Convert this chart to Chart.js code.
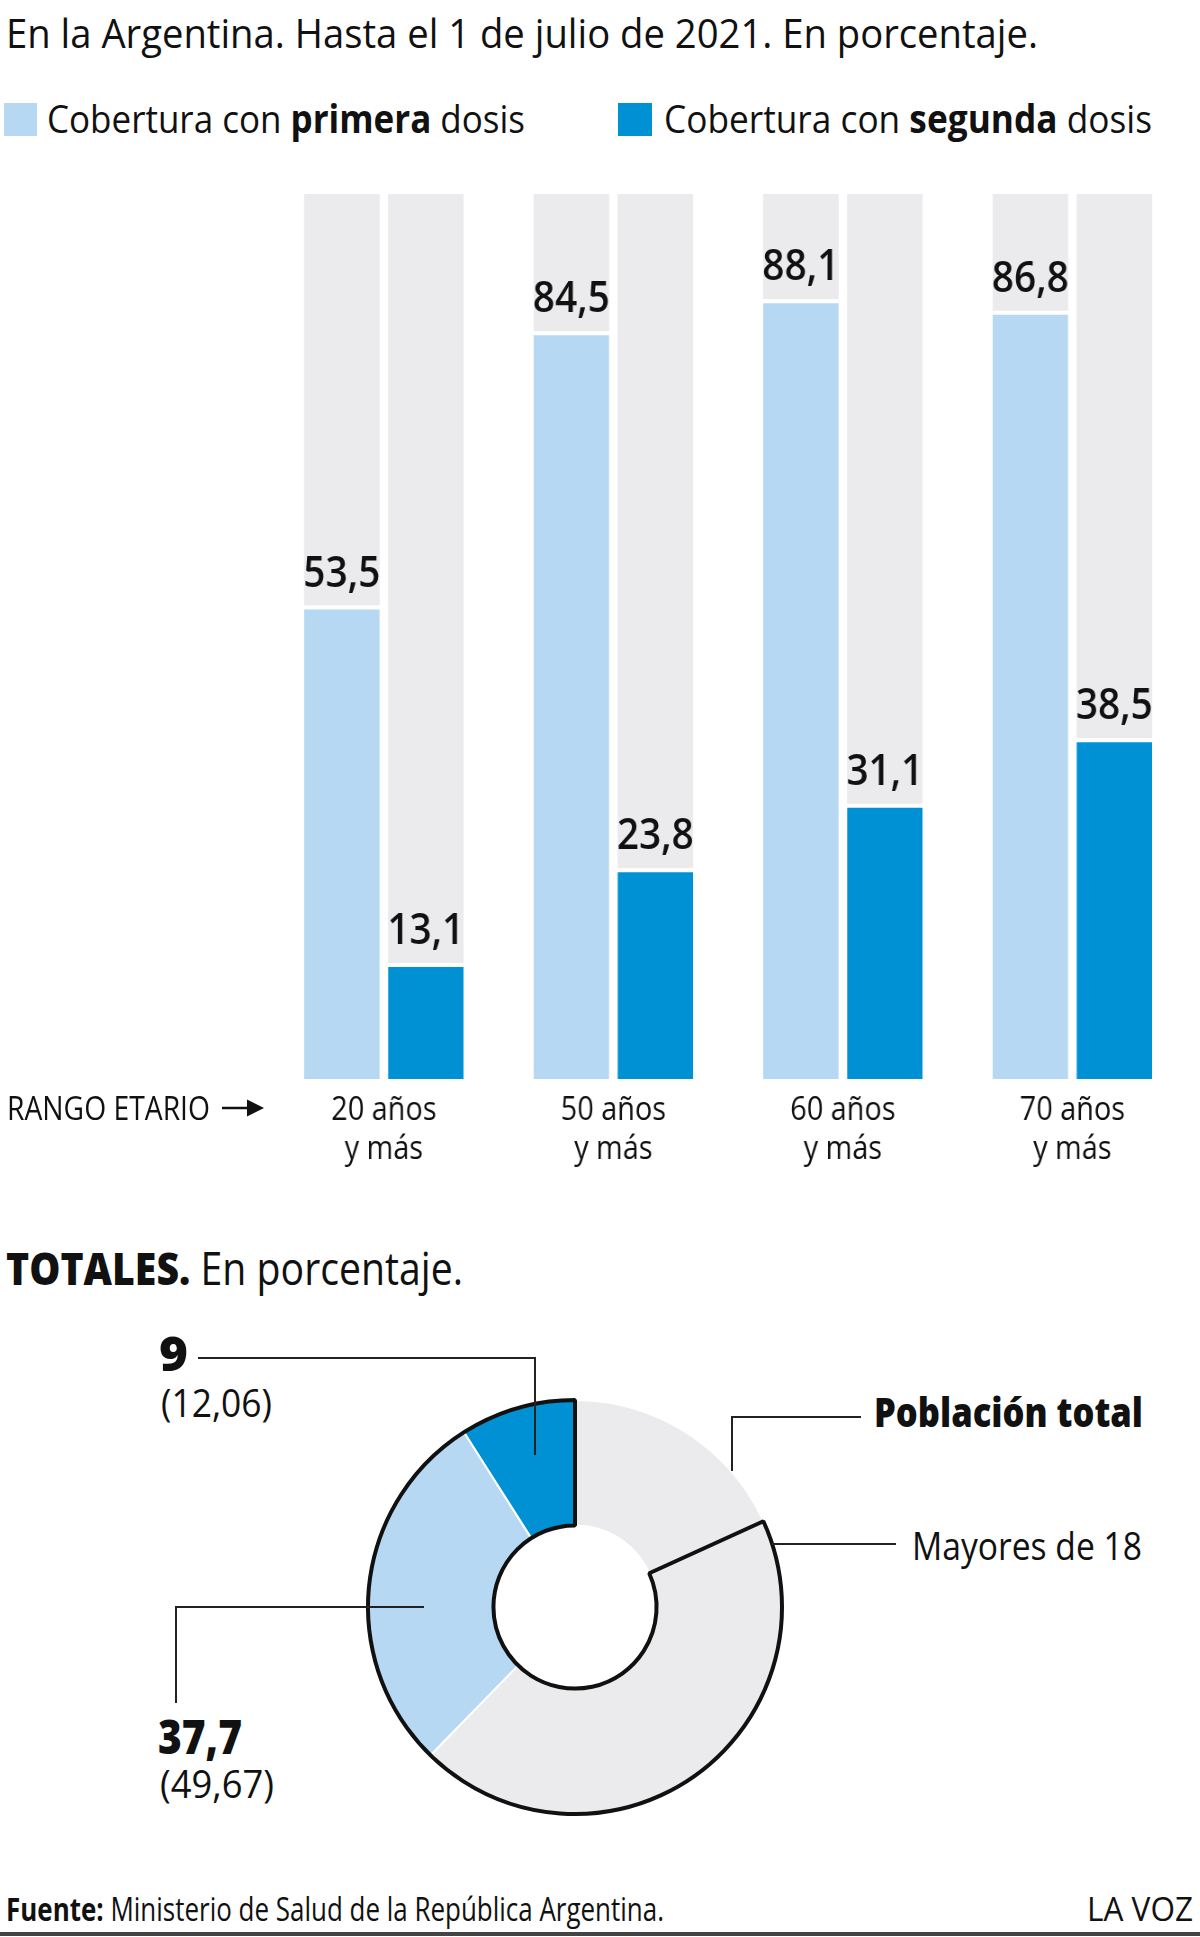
<!DOCTYPE html>
<html lang="es">
<head>
<meta charset="utf-8">
<script src="https://cdn.jsdelivr.net/npm/chart.js@4/dist/chart.umd.min.js"></script>
<style>
  body { margin: 0; background: #fff; width: 1200px; height: 1937px; overflow: hidden; position: relative;
         font-family: "Open Sans", sans-serif; color: #111; }
  .t { position: absolute; white-space: nowrap; line-height: 1; transform-origin: 0 0; }
  .linea { position: absolute; background: #222; }
  .caja { position: absolute; }
  canvas { position: absolute; }
</style>
</head>
<body>
  <!-- data-w: ancho final del texto en px (la tipografia original es condensada) -->
  <div class="t" data-w="1032" style="left:6px; top:12px; font-size:41px;">En la Argentina. Hasta el 1 de julio de 2021. En porcentaje.</div>

  <div class="caja" style="left:4px; top:103px; width:33px; height:33px; background:#b6d8f2;"></div>
  <div class="t" data-w="478" style="left:47px; top:98px; font-size:39px;">Cobertura con <b>primera</b> dosis</div>
  <div class="caja" style="left:618px; top:103px; width:34px; height:33px; background:#0090d4;"></div>
  <div class="t" data-w="488" style="left:664px; top:98px; font-size:39px;">Cobertura con <b>segunda</b> dosis</div>

  <canvas id="barras" width="1334" height="1060" style="left:0; top:150px; transform:scaleX(0.9); transform-origin:0 0;"></canvas>

  <div class="t" data-w="203" style="left:7px; top:1091px; font-size:33px;">RANGO ETARIO</div>
  <svg class="caja" style="left:222px; top:1098px;" width="42" height="20">
    <line x1="0" y1="10" x2="30" y2="10" stroke="#111" stroke-width="2.5"/>
    <polygon points="25,1.5 42,10 25,18.5" fill="#111"/>
  </svg>

  <div class="t" data-w="457" style="left:6px; top:1245px; font-size:45px;"><b style="font-weight:800;">TOTALES.</b> En porcentaje.</div>

  <canvas id="torta" width="440" height="440" style="left:355px; top:1387px;"></canvas>
  <canvas id="contorno" width="440" height="440" style="left:355px; top:1387px;"></canvas>

  <div class="t" data-w="29" style="left:159px; top:1329px; font-size:48px; font-weight:800;">9</div>
  <div class="t" data-w="111" style="left:161px; top:1383px; font-size:38px;">(12,06)</div>
  <div class="linea" style="left:198px; top:1357px; width:338px; height:2px;"></div>
  <div class="linea" style="left:534px; top:1357px; width:2px; height:98px;"></div>

  <div class="t" data-w="84" style="left:158px; top:1712px; font-size:48px; font-weight:800;">37,7</div>
  <div class="t" data-w="114" style="left:160px; top:1764px; font-size:38px;">(49,67)</div>
  <div class="linea" style="left:175px; top:1606px; width:249px; height:2px;"></div>
  <div class="linea" style="left:175px; top:1606px; width:2px; height:97px;"></div>

  <div class="t" data-w="269" style="left:874px; top:1391px; font-size:41px; font-weight:800;">Población total</div>
  <div class="linea" style="left:731px; top:1416px; width:130px; height:2px;"></div>
  <div class="linea" style="left:731px; top:1416px; width:2px; height:55px;"></div>

  <div class="t" data-w="230" style="left:912px; top:1526px; font-size:38px;">Mayores de 18</div>
  <div class="linea" style="left:772px; top:1543px; width:124px; height:2px;"></div>

  <div class="t" data-w="658" style="left:6px; top:1892px; font-size:33px;"><b>Fuente:</b> Ministerio de Salud de la República Argentina.</div>
  <div class="t" data-w="106" style="left:1087px; top:1892px; font-size:33px;">LA VOZ</div>
  <div class="caja" style="left:0; top:1932px; width:1200px; height:4px; background:#444;"></div>

<script>
// Cobertura por rango etario (%)
var rangos = [['20 años', 'y más'], ['50 años', 'y más'], ['60 años', 'y más'], ['70 años', 'y más']];
var primeraDosis = [53.5, 84.5, 88.1, 86.8];
var segundaDosis = [13.1, 23.8, 31.1, 38.5];

// Totales sobre la poblacion total (%)
var totalPrimera = 37.7;
var totalSegunda = 9;
var mayoresDe18 = 81.8;

var celeste = '#b6d8f2';
var azul = '#0090d4';
var gris = '#ebebee';

function coma(v) {
	return String(v).replace('.', ',');
}

function ajustar() {
	document.querySelectorAll('[data-w]').forEach(function(el) {
		el.style.transform = 'none';
		var w = el.getBoundingClientRect().width;
		el.style.transform = 'scaleX(' + (el.dataset.w / w) + ')';
	});
}
ajustar();
document.fonts.ready.then(ajustar);

var etiquetas = {
	id: 'etiquetas',
	afterDatasetsDraw: function(chart) {
		var ctx = chart.ctx;
		ctx.save();
		ctx.font = '600 43px "Open Sans"';
		ctx.fillStyle = '#111';
		ctx.textAlign = 'center';
		ctx.textBaseline = 'alphabetic';
		[0, 2].forEach(function(i) {
			chart.getDatasetMeta(i).data.forEach(function(bar, j) {
				ctx.fillText(coma(chart.data.datasets[i].data[j]), bar.x, bar.y - 19);
			});
		});
		ctx.restore();
	}
};

new Chart(document.getElementById('barras'), {
	type: 'bar',
	data: {
		labels: rangos,
		datasets: [{
			label: 'Cobertura con primera dosis',
			data: primeraDosis,
			stack: 'p',
			backgroundColor: celeste,
			borderColor: '#fff',
			borderWidth: {top: 4, left: 0, right: 0, bottom: 0}
		}, {
			label: 'resto primera',
			data: primeraDosis.map(function(v) { return 100 - v; }),
			stack: 'p',
			backgroundColor: gris
		}, {
			label: 'Cobertura con segunda dosis',
			data: segundaDosis,
			stack: 's',
			backgroundColor: azul,
			borderColor: '#fff',
			borderWidth: {top: 4, left: 0, right: 0, bottom: 0}
		}, {
			label: 'resto segunda',
			data: segundaDosis.map(function(v) { return 100 - v; }),
			stack: 's',
			backgroundColor: gris
		}]
	},
	options: {
		responsive: false,
		animation: false,
		categoryPercentage: 0.732,
		barPercentage: 0.9,
		layout: { padding: { left: 299, right: 15, top: 44, bottom: 0 } },
		plugins: { legend: { display: false }, tooltip: { enabled: false } },
		scales: {
			x: {
				stacked: true,
				grid: { display: false, drawTicks: false },
				border: { display: false },
				ticks: { color: '#111', padding: 12, font: { family: 'Open Sans', size: 32, lineHeight: 1.22 } },
				afterFit: function(s) { s.height = 131; }
			},
			y: { stacked: true, display: false, min: 0, max: 100 }
		}
	},
	plugins: [etiquetas]
});

// anillo: sentido horario desde arriba -> gris, celeste, azul
new Chart(document.getElementById('torta'), {
	type: 'doughnut',
	data: {
		labels: ['Sin vacunar', 'Solo primera dosis', 'Segunda dosis'],
		datasets: [{
			data: [100 - totalPrimera, totalPrimera - totalSegunda, totalSegunda],
			backgroundColor: [gris, celeste, azul],
			borderColor: '#fff',
			borderWidth: 2
		}]
	},
	options: {
		responsive: false,
		animation: false,
		radius: 207,
		cutout: '39.4%',
		plugins: { legend: { display: false }, tooltip: { enabled: false } }
	}
});

// contorno de mayores de 18
new Chart(document.getElementById('contorno'), {
	type: 'doughnut',
	data: {
		labels: ['Menores de 18', 'Mayores de 18'],
		datasets: [{
			data: [100 - mayoresDe18, mayoresDe18],
			backgroundColor: ['rgba(0,0,0,0)', 'rgba(0,0,0,0)'],
			borderColor: ['rgba(0,0,0,0)', '#111'],
			borderWidth: [0, 4]
		}]
	},
	options: {
		responsive: false,
		animation: false,
		radius: 207,
		cutout: '39.4%',
		plugins: { legend: { display: false }, tooltip: { enabled: false } }
	}
});
</script>
</body>
</html>
